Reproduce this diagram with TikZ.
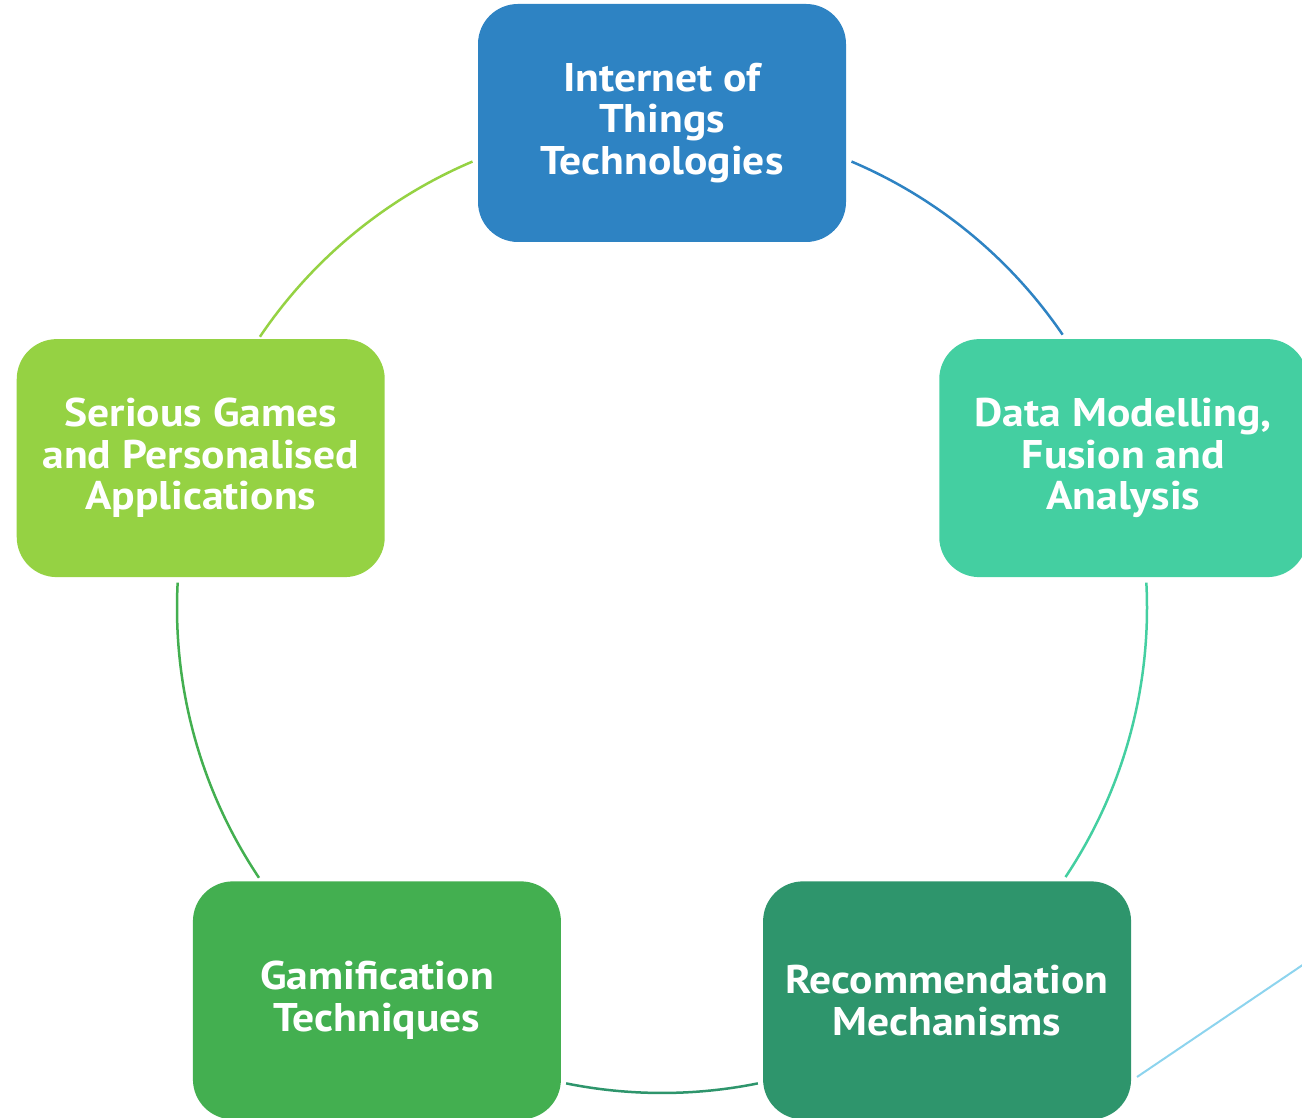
\documentclass[tikz,border=0pt]{standalone}
\usepackage{fontspec}
\setmainfont{PT Sans}[FakeStretch=1.09]
\usetikzlibrary{calc}
\definecolor{cTop}{HTML}{2E83C3}
\definecolor{cRight}{HTML}{44CFA1}
\definecolor{cBR}{HTML}{2E956C}
\definecolor{cBL}{HTML}{43AF50}
\definecolor{cLeft}{HTML}{95D243}
\definecolor{cLine}{HTML}{8DD4EE}
\tikzset{
  box/.style={rounded corners=40pt, minimum width=368pt, minimum height=238pt,
    inner sep=0pt, text=white, align=center,
    font=\fontsize{40}{41.5}\selectfont\bfseries},
  ring/.style={line width=2.5pt},
}
\begin{document}
\begin{tikzpicture}[x=1pt,y=1pt]
\useasboundingbox (0,0) rectangle (1302,1118);
\clip (0,0) rectangle (1302,1118);
\coordinate (c) at (662,510);
\def\R{485}
% arcs
\draw[ring,cTop] ($(c)+(67:\R)$) arc[start angle=67, end angle=34.3, radius=\R];
\draw[ring,cRight] ($(c)+(3:\R)$) arc[start angle=3, end angle=-33.7, radius=\R];
\draw[ring,cBR] ($(c)+(-78.6:\R)$) arc[start angle=-78.6, end angle=-101.4, radius=\R];
\draw[ring,cBL] ($(c)+(-146.2:\R)$) arc[start angle=-146.2, end angle=-183, radius=\R];
\draw[ring,cLeft] ($(c)+(146:\R)$) arc[start angle=146, end angle=113, radius=\R];
% boxes
\node[box, fill=cTop]   (iot) at ($(c)+(90:\R)$) {Internet of\\Things\\Technologies};
\node[box, fill=cRight] (dm)  at ($(c)+(18:\R)$) {Data Modelling,\\Fusion and\\Analysis};
\node[box, fill=cBR]    (rm)  at ($(c)+(-54:\R)$) {Recommendation\\Mechanisms};
\node[box, fill=cBL]    (gt)  at ($(c)+(-126:\R)$) {Gamification\\Techniques};
\node[box, fill=cLeft]  (sg)  at ($(c)+(162:\R)$) {Serious Games\\and Personalised\\Applications};
% decorative line
\coordinate (l1) at (1137,41);
\coordinate (l2) at (1310,158);
\draw[cLine, line width=2pt] (l1) -- (l2);
\end{tikzpicture}
\end{document}
